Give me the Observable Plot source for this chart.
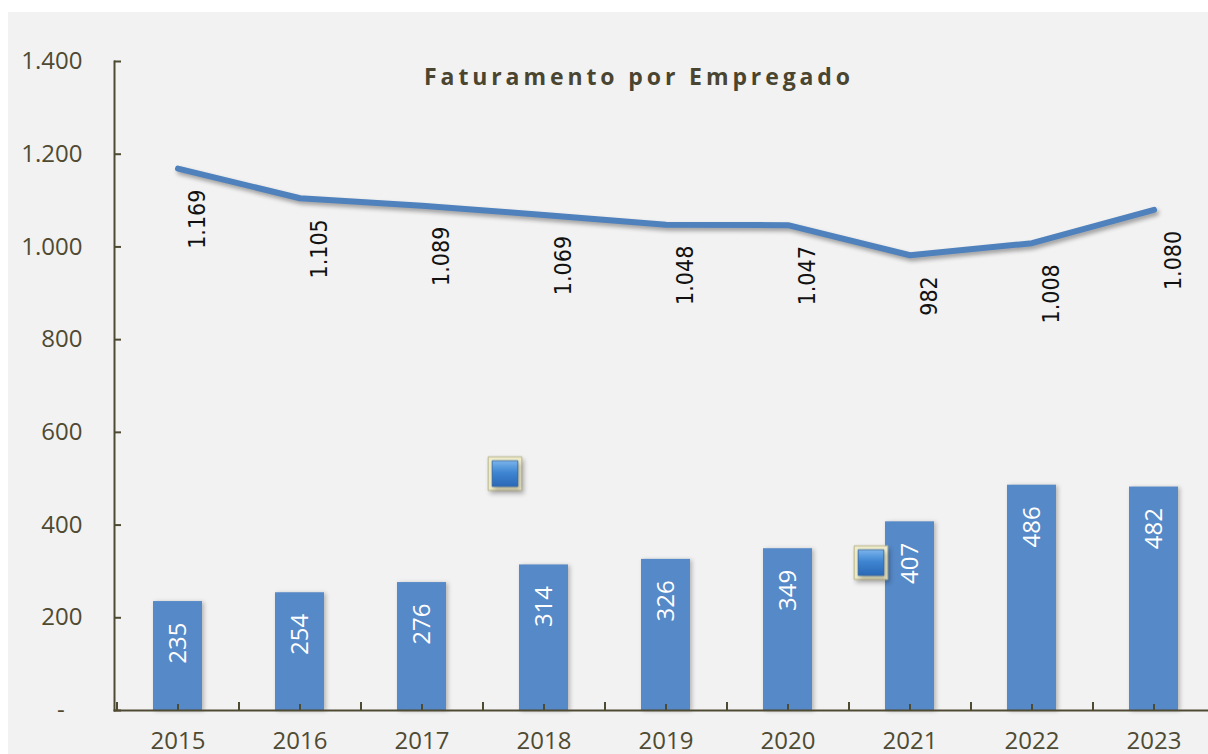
<!DOCTYPE html>
<html>
<head>
<meta charset="utf-8">
<script src="https://cdn.jsdelivr.net/npm/d3@7"></script>
<script src="https://cdn.jsdelivr.net/npm/@observablehq/plot@0.6"></script>
<style>
  html, body { margin: 0; padding: 0; background: #ffffff; }
  #panel {
    position: absolute; left: 8px; top: 12px; width: 1200px; height: 742px;
    background: #f2f2f2; overflow: hidden;
  }
  #panel svg { background: transparent; overflow: visible; max-width: none !important; }
  g[aria-label="line"] { filter: drop-shadow(2px 3px 2px rgba(0,0,0,0.35)); }
  g[aria-label="bar"] { filter: drop-shadow(2px 1px 2px rgba(0,0,0,0.25)); }
  g[aria-label="dot"] { filter: drop-shadow(2px 3px 2px rgba(0,0,0,0.25)); }
</style>
</head>
<body>
<div id="panel"></div>
<script>
// ---- data ----
const years = ["2015", "2016", "2017", "2018", "2019", "2020", "2021", "2022", "2023"];
const barValues = [235, 254, 276, 314, 326, 349, 407, 486, 482];
const lineValues = [1169, 1105, 1089, 1069, 1048, 1047, 982, 1008, 1080];
const yTicks = [0, 200, 400, 600, 800, 1000, 1200, 1400];
const titleText = "Faturamento por Empregado";
// stray square markers visible in the picture (year band, value)
const markerYears = ["2018", "2021"];
const markerValues = [511, 319];

// ---- tables ----
const bars = years.map((y, i) => ({year: y, value: barValues[i]}));
const line = years.map((y, i) => ({year: y, value: lineValues[i]}));
const markers = markerYears.map((y, i) => ({year: y, value: markerValues[i]}));

const axisColor = "#4f4a32";
const fmtPt = d => d === 0 ? "-\u2007\u2009" : d3.format(",")(d).replace(/,/g, ".");

const defsMark = () => {
  const g = d3.create("svg:g");
  const grad = g.append("defs").append("linearGradient")
    .attr("id", "sqgrad").attr("x1", 0).attr("y1", 0).attr("x2", 0).attr("y2", 1);
  grad.append("stop").attr("offset", "0%").attr("stop-color", "#7ab4ec");
  grad.append("stop").attr("offset", "45%").attr("stop-color", "#3f86d2");
  grad.append("stop").attr("offset", "100%").attr("stop-color", "#2a68b6");
  return g.node();
};

const chart = Plot.plot({
  width: 1209,
  height: 742,
  marginLeft: 106,
  marginRight: 0,
  marginTop: 49,
  marginBottom: 44,
  style: {fontFamily: "'Open Sans', sans-serif", color: axisColor, background: "transparent", maxWidth: "none"},
  x: {domain: years, type: "band", paddingInner: 0.6, paddingOuter: 0.3, align: 0.5, label: null},
  y: {domain: [0, 1400], label: null},
  marks: [
    defsMark,
    Plot.barY(bars, {x: "year", y: "value", fill: "#5689c8"}),
    Plot.frame({anchor: "left", stroke: axisColor, strokeWidth: 2}),
    Plot.frame({anchor: "bottom", stroke: axisColor, strokeWidth: 2}),
    Plot.axisY({ticks: yTicks, tickSize: -7, text: null, label: null, stroke: axisColor, strokeWidth: 2}),
    Plot.axisY({ticks: yTicks, tickSize: 0, tickPadding: 32, tickFormat: fmtPt, label: null,
      fontSize: 24, fill: axisColor, fontFamily: "'Open Sans', sans-serif"}),
    Plot.axisX({tickSize: -6, text: null, label: null, stroke: axisColor, strokeWidth: 2}),
    Plot.axisX({tickSize: -8, text: null, label: null, stroke: axisColor, strokeWidth: 2, dx: -61}),
    Plot.axisX({tickSize: 0, tickPadding: 21, fontSize: 24, fill: axisColor, label: null,
      fontFamily: "'Open Sans', sans-serif"}),
    Plot.text(bars, {x: "year", y: "value", text: d => String(d.value), rotate: -90,
      textAnchor: "end", lineAnchor: "middle", dy: 21, fill: "#ffffff",
      fontSize: 24, fontFamily: "'Open Sans', sans-serif"}),
    Plot.lineY(line, {x: "year", y: "value", stroke: "#4f81bd", strokeWidth: 6,
      strokeLinecap: "round", strokeLinejoin: "round"}),
    Plot.text(line, {x: "year", y: "value", text: d => fmtPt(d.value), rotate: -90,
      textAnchor: "end", lineAnchor: "middle", dx: 20, dy: 21, fill: "#111111",
      fontSize: 23, fontFamily: "'DejaVu Sans Condensed', 'DejaVu Sans', sans-serif"}),
    Plot.dot(markers, {x: "year", y: "value", dx: -39, symbol: "square", r: 19,
      fill: "#efecca", stroke: "#b8b38c", strokeWidth: 1}),
    Plot.dot(markers, {x: "year", y: "value", dx: -39, symbol: "square", r: 14.5,
      fill: "url(#sqgrad)", stroke: "#2d5f9e", strokeWidth: 0.8}),
    Plot.text([titleText], {frameAnchor: "top", text: d => d, dx: -27, dy: 16,
      lineAnchor: "middle", fontSize: 23, fontWeight: "bold", fill: "#4a4530",
      fontFamily: "'Open Sans', sans-serif"})
  ]
});
chart.querySelectorAll("g[aria-label='text'] text").forEach(t => {
  if (t.textContent === titleText) t.style.letterSpacing = "3.9px";
});
document.getElementById("panel").appendChild(chart);
</script>
</body>
</html>
